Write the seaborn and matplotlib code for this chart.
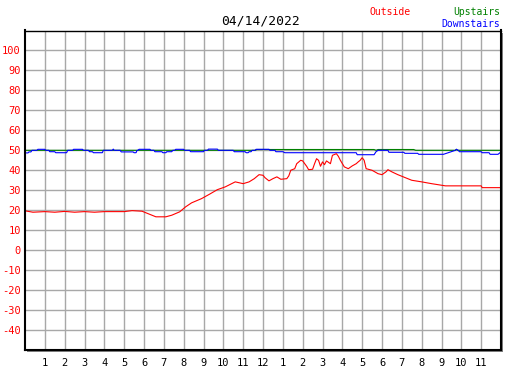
import matplotlib
matplotlib.use('Agg')
import matplotlib.pyplot as plt
from matplotlib.patches import Rectangle
import seaborn as sns
import pandas as pd

# Outside temperature (hour of day, degrees)
out_hours = [0, 0.4, 1.0, 1.5, 2.0, 2.5, 3.0, 3.5, 4.0, 4.5,
             5.0, 5.4, 5.9, 6.1, 6.4, 6.6, 7.1, 7.4, 7.8, 8.1,
             8.4, 8.9, 9.3, 9.7, 10.1, 10.6, 11.0, 11.3, 11.56, 11.8,
             12.0, 12.1, 12.3, 12.5, 12.7, 12.9, 13.2, 13.3, 13.4, 13.6,
             13.7, 13.9, 14.0, 14.2, 14.3, 14.5, 14.6, 14.7, 14.8, 14.9,
             15.0, 15.1, 15.2, 15.4, 15.5, 15.7, 15.8, 15.9, 16.1, 16.3,
             16.5, 16.7, 16.8, 16.9, 17.0, 17.1, 17.2, 17.5, 17.8, 18.0,
             18.2, 18.3, 18.5, 18.8, 19.2, 19.5, 20.0, 20.5, 21.2, 23.0,
             23.05, 24.0]
outside = [19.7, 19.0, 19.3, 19.0, 19.4, 19.0, 19.3, 19.0, 19.3, 19.3,
           19.3, 19.8, 19.5, 18.7, 17.5, 16.7, 16.7, 17.5, 19.2, 21.7,
           23.7, 25.8, 28.0, 30.3, 31.7, 34.2, 33.3, 34.2, 35.8, 37.8,
           37.5, 36.3, 34.7, 35.8, 36.7, 35.5, 35.8, 37.2, 40.0, 40.8,
           43.3, 45.0, 44.7, 42.0, 40.3, 40.5, 43.3, 45.8, 45.0, 42.0,
           44.2, 42.8, 44.7, 43.3, 47.5, 48.3, 47.0, 45.0, 41.7, 40.8,
           42.2, 43.3, 44.2, 45.0, 46.3, 45.0, 40.8, 40.0, 38.3, 37.8,
           39.2, 40.3, 39.2, 37.8, 36.2, 35.0, 34.2, 33.3, 32.2, 32.2,
           31.3, 31.3]

# Upstairs temperature
up_hours = [0, 11.6, 11.7, 17.6, 17.7, 17.8, 19.6, 19.7, 21.7, 21.75, 21.8, 24.0]
upstairs = [50.0, 50.0, 50.4, 50.4, 50.0, 50.4, 50.4, 50.0, 50.0, 50.5, 50.0, 50.0]

# Downstairs temperature
down_hours = [0.0, 0.15, 0.2, 0.3, 0.35, 0.6, 0.65, 1.0, 1.05, 1.2,
              1.25, 1.5, 1.55, 2.1, 2.15, 2.4, 2.45, 2.9, 2.95, 3.2,
              3.25, 3.4, 3.45, 3.9, 3.95, 4.4, 4.45, 4.5, 4.8, 4.85,
              5.45, 5.5, 5.6, 5.65, 5.7, 5.75, 6.3, 6.35, 6.5, 6.55,
              6.9, 6.95, 7.1, 7.15, 7.4, 7.45, 7.55, 7.6, 8.0, 8.05,
              8.3, 8.35, 9.0, 9.05, 9.2, 9.25, 9.7, 9.75, 10.5, 10.55,
              11.1, 11.15, 11.25, 11.3, 11.4, 11.45, 11.6, 11.65, 12.3, 12.35,
              12.6, 12.65, 13.0, 13.1, 16.7, 16.75, 17.6, 17.7, 17.8, 18.3,
              18.35, 19.1, 19.15, 19.8, 19.85, 21.1, 21.7, 21.75, 21.85, 21.9,
              23.0, 23.05, 23.4, 23.45, 23.85, 24.0]
downstairs = [48.7, 48.7, 49.2, 49.2, 50.0, 50.0, 50.5, 50.5, 50.0, 50.0,
              49.3, 49.3, 48.8, 48.8, 50.0, 50.0, 50.5, 50.5, 50.0, 50.0,
              49.3, 49.3, 48.8, 48.8, 50.0, 50.0, 50.6, 50.0, 50.0, 49.2,
              49.2, 48.8, 48.8, 50.0, 50.0, 50.5, 50.5, 50.0, 50.0, 49.3,
              49.3, 48.8, 48.8, 49.3, 49.3, 50.0, 50.0, 50.5, 50.5, 50.0,
              50.0, 49.3, 49.3, 50.0, 50.0, 50.6, 50.6, 50.0, 50.0, 49.3,
              49.3, 48.8, 48.8, 49.3, 49.3, 50.0, 50.0, 50.5, 50.5, 50.0,
              50.0, 49.3, 49.3, 48.8, 48.8, 47.8, 47.8, 49.3, 50.0, 50.0,
              49.0, 49.0, 48.5, 48.5, 48.0, 48.0, 50.0, 50.5, 50.0, 49.3,
              49.3, 48.8, 48.8, 48.0, 48.0, 49.2]

y_ticks = [-40, -30, -20, -10, 0, 10, 20, 30, 40, 50, 60, 70, 80, 90, 100]
x_ticks = list(range(1, 24))
x_labels = ['1', '2', '3', '4', '5', '6', '7', '8', '9', '10', '11', '12',
            '1', '2', '3', '4', '5', '6', '7', '8', '9', '10', '11']
date_label = '04/14/2022'

sns.set_style('white')
plt.rcParams['font.family'] = ['DejaVu Sans Mono']

W, H = 527, 370
fig = plt.figure(figsize=(W / 100, H / 100), dpi=100)
left, bottom, width, height = 25 / W, 20 / H, 476 / W, 319.5 / H

# drop shadow behind the plot frame
shadow = Rectangle((left + 2 / W, bottom - 2 / H), width, height,
                   transform=fig.transFigure, facecolor='#808080',
                   edgecolor='none', zorder=0)
fig.patches.append(shadow)

ax = fig.add_axes([left, bottom, width, height], zorder=1)
ax.set_facecolor('white')

df_up = pd.DataFrame({'hour': up_hours, 'temp': upstairs})
df_down = pd.DataFrame({'hour': down_hours, 'temp': downstairs})
df_out = pd.DataFrame({'hour': out_hours, 'temp': outside})

sns.lineplot(data=df_up, x='hour', y='temp', ax=ax, color='#008000',
             linewidth=0.8, estimator=None, sort=False)
sns.lineplot(data=df_down, x='hour', y='temp', ax=ax, color='#0000ff',
             linewidth=0.8, estimator=None, sort=False)
sns.lineplot(data=df_out, x='hour', y='temp', ax=ax, color='#ff0000',
             linewidth=0.8, estimator=None, sort=False)

ax.set_xlim(0, 24)
ax.set_ylim(-50, 110)
ax.set_xticks(x_ticks)
ax.set_xticklabels(x_labels, fontsize=7.5, color='black')
ax.set_yticks(y_ticks)
ax.set_yticklabels([str(v) for v in y_ticks], fontsize=7.5, color='#ff0000')
ax.set_xlabel('')
ax.set_ylabel('')

ax.grid(True, color='#a8a8a8', linewidth=1.0)
ax.set_axisbelow(True)
ax.tick_params(axis='both', direction='in', length=4, width=1, color='black')
ax.tick_params(axis='y', pad=3)
ax.tick_params(axis='x', pad=6)

for side in ['left', 'bottom', 'right']:
    ax.spines[side].set_linewidth(1.5)
    ax.spines[side].set_color('black')
ax.spines['top'].set_linewidth(1.0)
ax.spines['top'].set_color('black')

fig.text(261 / W, 1 - 25 / H, date_label, ha='center', va='baseline',
         fontsize=9.4, color='black')
fig.text(370 / W, 1 - 15 / H, 'Outside', ha='left', va='baseline',
         fontsize=7, color='#ff0000')
fig.text(500 / W, 1 - 15 / H, 'Upstairs', ha='right', va='baseline',
         fontsize=7, color='#008000')
fig.text(500 / W, 1 - 27 / H, 'Downstairs', ha='right', va='baseline',
         fontsize=7, color='#0000ff')

fig.savefig('out.png', dpi=100)
